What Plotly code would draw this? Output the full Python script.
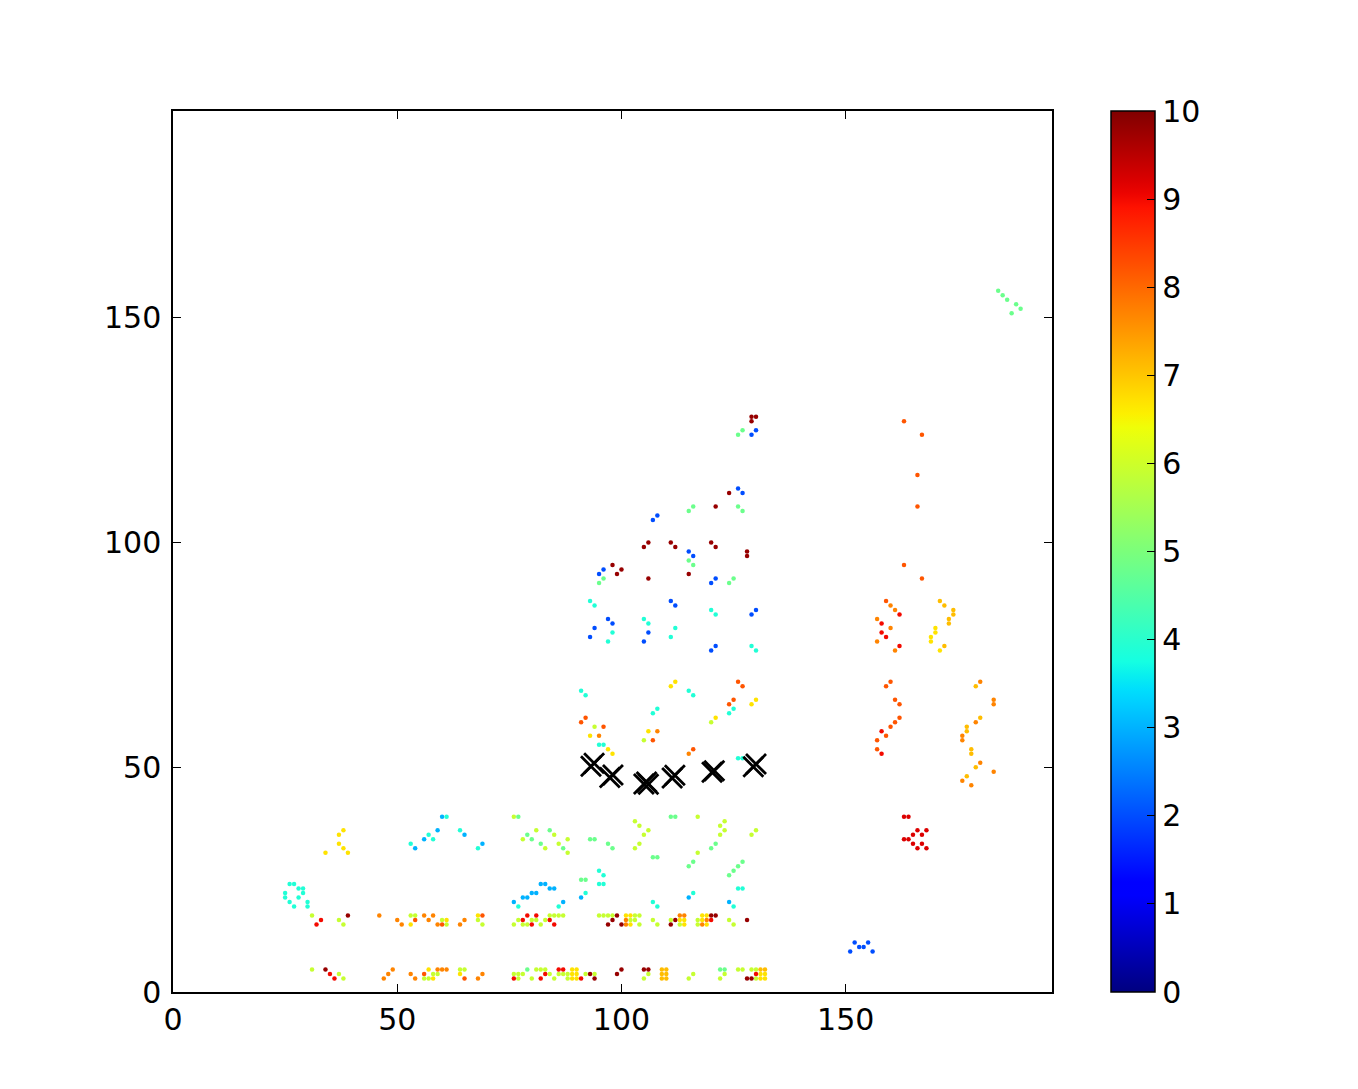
import numpy as np
import plotly.graph_objects as go

# ---------------- data ----------------
# colour groups: value on the 0-10 colour scale and their (x, y) points
val_blue = 2.0
pts_blue = [(130,125),(129,124),(126,112),(127,111),(108,106),(107,105),(115,98),(116,97),
            (96,94),(95,93),(121,92),(120,91),(111,87),(112,86),(97,83),(98,82),(94,81),(93,79),
            (106,80),(105,78),(130,85),(129,84),(121,77),(120,76),
            (152,11),(155,11),(153,10),(154,10),(151,9),(156,9)]

val_lightblue = 3.0
pts_lightblue = [(60,39),(59,36),(56,34),(54,32),(65,35),(69,33),(82,24),(83,24),(84,23),(85,23),
                 (80,22),(81,22),(78,21),(79,21),(76,20),(87,20),(91,21),(115,21),(124,20)]

val_cyan = 3.9
pts_cyan = [(61,39),(57,35),(58,34),(53,33),(64,36),(68,32),
            (26,24),(27,24),(28,23),(29,23),(29,22),(25,22),(25,21),(28,21),(26,20),(30,20),(27,19),(30,19),
            (95,24),(96,24),(77,19),(86,19),(92,22),(107,20),(108,19),(116,22),(126,23),(127,23),(125,19),
            (93,87),(94,86),(98,80),(97,78),(105,83),(106,82),(112,81),(111,79),(120,85),(121,84),
            (129,77),(130,76),(91,67),(92,66),(115,67),(116,66),(125,63),(124,62),(108,63),(107,62),
            (95,55),(96,55),(126,52),(127,52),(95,27),(96,26)]

val_green = 4.8
pts_green = [(77,39),(111,39),(112,39),(84,36),(79,35),(80,34),(82,33),(87,32),(93,34),(94,34),
             (97,33),(98,32),(107,30),(108,30),(120,32),(121,33),(115,28),(116,29),(124,26),(125,27),
             (126,28),(127,29),(91,25),(92,25),(79,5),(122,5),(123,5),(127,125),(126,124),(116,108),
             (115,107),(126,108),(127,107),(115,96),(116,95),(96,92),(95,91),(125,92),(124,91),
             (184,156),(185,155),(186,154),(188,153),(189,152),(187,151)]

val_yellowgreen = 5.9
pts_yellowgreen = [(31,17),(37,16),(38,15),(53,17),(54,17),(60,16),(61,15),(68,16),(69,15),(31,5),
                   (37,4),(38,3),(58,4),(59,4),(56,3),(57,3),(64,5),(65,5),
                   (76,39),(117,39),(103,38),(104,37),(122,37),(123,38),(81,36),(85,35),(78,34),(83,32),
                   (86,33),(88,34),(88,31),(103,32),(104,33),(105,35),(106,36),(122,35),(123,36),(117,31),
                   (129,35),(130,36),
                   (76,15),(77,16),(78,15),(79,15),(80,16),(81,16),(82,15),(83,16),(84,17),(85,17),(86,17),
                   (87,17),(95,17),(96,17),(97,17),(98,17),(102,16),(103,17),(104,17),(103,16),(104,15),
                   (107,16),(108,15),(111,16),(113,15),(117,16),(117,15),(124,16),(125,15),
                   (76,4),(77,4),(77,3),(78,4),(80,3),(81,5),(82,5),(84,4),(83,5),(85,3),(86,4),(87,4),
                   (88,3),(88,4),(92,4),(94,4),(105,3),(106,4),(115,3),(116,4),(122,3),(123,4),(126,5),
                   (127,5),(129,5),(130,5),(130,3),
                   (120,60),(94,59),(105,56)]

val_yellow = 6.7
pts_yellow = [(38,36),(37,35),(37,33),(38,32),(39,31),(34,31),(53,15),(61,16),(68,17),(57,5),(64,4),(58,3),
              (101,17),(102,17),(102,15),(113,16),(114,16),(114,15),(118,17),(119,17),(118,16),(119,15),
              (89,5),(90,5),(89,4),(90,4),(89,3),(90,3),(131,4),(132,4),(131,3),(132,3),
              (112,69),(111,68),(130,65),(129,64),(121,61),(93,57),(97,54),(98,53),(106,58),
              (170,81),(170,80),(169,79),(169,78),(171,76)]

val_yelloworange = 7.1
pts_yelloworange = [(109,5),(110,5),(109,4),(110,4),(109,3),(110,3),(131,5),(132,5),
                    (171,87),(172,86),(174,85),(174,84),(173,83),(173,82),(172,77),
                    (179,68),(180,61),(177,59),(177,58),(178,54),(178,53),(179,50),(177,48)]

val_orange = 7.7
pts_orange = [(46,17),(50,16),(51,15),(56,17),(58,17),(57,16),(59,15),(65,16),(64,15),(49,5),(48,4),
              (47,3),(53,4),(54,3),(59,5),(60,5),(61,5),(69,4),(68,3),
              (101,16),(101,15),(113,17),(114,17),(119,16),(118,15),
              (95,57),(108,58),(115,53),
              (160,86),(161,85),(157,83),(160,81),(157,78),(161,76),
              (180,69),(183,65),(183,64),(179,60),(176,57),(176,56),(180,51),(176,47),(178,46),(183,49)]

val_orangered = 8.2
pts_orangered = [(54,16),(60,15),(69,17),(56,4),(65,3),
                 (126,69),(127,68),(125,65),(124,64),(92,61),(91,60),(96,59),(107,56),(116,54),
                 (163,127),(167,124),(166,115),(166,108),(163,95),(167,92),(159,87),
                 (160,69),(159,68),(161,65),(162,64),(162,61),(161,60),(160,59),(159,57),(157,56),(157,54)]

val_red = 9.0
pts_red = [(33,16),(32,15),(35,4),(36,3),(78,16),(79,17),(80,15),(81,17),(84,16),(85,15),(76,3),(83,4),
           (82,3),(86,5),(87,5),(91,3),(120,16),(130,4),
           (162,84),(158,82),(158,80),(159,79),(162,77),(158,58),(158,53)]

val_deepred = 9.2
pts_deepred = [(163,39),(164,39),(166,36),(168,36),(165,35),(167,35),(163,34),(164,34),(165,33),
               (167,33),(166,32),(168,32)]

val_darkred = 9.8
pts_darkred = [(39,17),(34,5),(99,17),(98,16),(97,15),(100,15),(111,15),(112,16),(120,17),(121,17),
               (128,16),(93,4),(94,3),(99,4),(100,5),(105,5),(106,5),(128,3),(129,3),
               (129,128),(130,128),(129,127),(124,111),(121,108),(106,100),(105,99),(111,100),(112,99),
               (120,100),(121,99),(128,98),(128,97),(98,95),(100,94),(99,93),(106,92),(115,93)]

# black X markers
mark_x = [93.2, 93.9, 97.4, 98.1, 105.0, 105.6, 106.0, 111.3, 111.9, 120.2, 120.7, 129.4, 130.0]
mark_y = [50.2, 50.9, 47.7, 48.3, 46.3, 46.7, 46.2, 47.6, 48.2, 48.9, 49.2, 50.1, 50.7]

axis_ticks = [0, 50, 100, 150]
cbar_ticks = list(range(0, 11))

# ---------------- assemble ----------------
groups = [(val_blue, pts_blue), (val_lightblue, pts_lightblue), (val_cyan, pts_cyan),
          (val_green, pts_green), (val_yellowgreen, pts_yellowgreen), (val_yellow, pts_yellow),
          (val_yelloworange, pts_yelloworange), (val_orange, pts_orange),
          (val_orangered, pts_orangered), (val_red, pts_red), (val_deepred, pts_deepred),
          (val_darkred, pts_darkred)]
xs, ys, cs = [], [], []
for v, pts in groups:
    for (px, py) in pts:
        xs.append(px); ys.append(py); cs.append(v)

# matplotlib 'jet' colormap as a plotly colorscale
def jet(v):
    r = np.interp(v, [0, 0.35, 0.66, 0.89, 1], [0, 0, 1, 1, 0.5])
    g = np.interp(v, [0, 0.125, 0.375, 0.64, 0.91, 1], [0, 0, 1, 1, 0, 0])
    b = np.interp(v, [0, 0.11, 0.34, 0.65, 1], [0.5, 1, 1, 0, 0])
    return f"rgb({int(round(r*255))},{int(round(g*255))},{int(round(b*255))})"

jet_scale = [[i / 64, jet(i / 64)] for i in range(65)]

FONT = "DejaVu Sans"

fig = go.Figure()
fig.add_trace(go.Scatter(
    x=xs, y=ys, mode="markers",
    marker=dict(size=4.5, color=cs, colorscale=jet_scale, cmin=0, cmax=10,
                line=dict(width=0),
                colorbar=dict(x=1.0672, xanchor="left", xref="paper",
                              y=0.5, yanchor="middle", len=1, lenmode="fraction",
                              thickness=44, thicknessmode="pixels",
                              xpad=0, ypad=0,
                              outlinewidth=1.5, outlinecolor="black",
                              ticks="inside", ticklen=8, tickwidth=1, tickcolor="black",
                              tickvals=cbar_ticks, ticktext=[str(t) for t in cbar_ticks],
                              tickfont=dict(family=FONT, size=30, color="black"))),
    showlegend=False, hoverinfo="skip"))

fig.add_trace(go.Scatter(
    x=mark_x, y=mark_y, mode="markers",
    marker=dict(symbol="x-thin", size=20, color="black",
                line=dict(width=2.8, color="black")),
    showlegend=False, hoverinfo="skip"))

axis_common = dict(range=[0, 196], showgrid=False, zeroline=False,
                   showline=True, linecolor="black", linewidth=1.5, mirror="ticks",
                   ticks="inside", ticklen=8, tickwidth=1, tickcolor="black",
                   tickvals=axis_ticks, ticktext=[str(t) for t in axis_ticks],
                   tickfont=dict(family=FONT, size=30, color="black"))

fig.update_layout(
    width=1358, height=1089,
    margin=dict(l=165, r=314, t=103, b=105, autoexpand=False),
    paper_bgcolor="white", plot_bgcolor="white",
    xaxis=dict(**axis_common, ticklabelstandoff=0),
    yaxis=dict(**axis_common, ticklabelstandoff=4),
    font=dict(family=FONT),
)

fig.write_html("out.html")
